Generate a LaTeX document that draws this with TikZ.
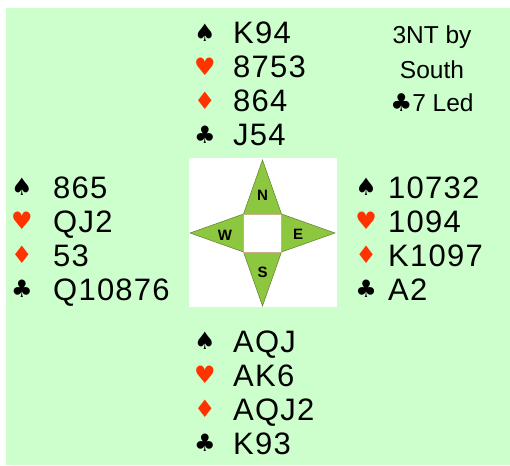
\documentclass[tikz,border=0pt]{standalone}
\usepackage{fontspec}
\setmainfont{Liberation Sans}
\newfontfamily\suitfont{DejaVu Sans}
\newfontfamily\cardfont[LetterSpace=4]{Liberation Sans}

\definecolor{feltgreen}{HTML}{CCFFCC}
\definecolor{suitred}{HTML}{FF3300}
\definecolor{roseleaf}{HTML}{8DC63F}
\definecolor{roseedge}{HTML}{5E7F2A}
\definecolor{roseframe}{HTML}{C8B08A}

\tikzset{
  suit/.style={inner sep=0pt, font=\suitfont\fontsize{24}{24}\selectfont},
  redsuit/.style={suit, text=suitred},
  cards/.style={anchor=base west, inner sep=0pt, font=\cardfont\fontsize{31}{31}\selectfont},
  note/.style={inner sep=0pt, font=\fontsize{24.5}{24.5}\selectfont},
  seat/.style={inner sep=0pt, font=\bfseries\fontsize{15}{15}\selectfont},
}

% one hand: name, suit x, cards x, top row y, four holdings
\newcommand{\bridgehand}[8]{
  \node[suit]    (#1sp)  at (#2,#4)     {♠};
  \node[redsuit] (#1he)  at (#2,#4+34)  {♥};
  \node[redsuit] (#1di)  at (#2,#4+68)  {♦};
  \node[suit]    (#1cl)  at (#2,#4+102) {♣};
  \node[cards]   (#1spc) at (#3,#4+11)  {#5};
  \node[cards]   (#1hec) at (#3,#4+45)  {#6};
  \node[cards]   (#1dic) at (#3,#4+79)  {#7};
  \node[cards]   (#1clc) at (#3,#4+113) {#8};
}

\begin{document}
\begin{tikzpicture}[x=1pt, y=-1pt]
    \useasboundingbox (0,0) rectangle (510,465);
    % Green table
    \fill[feltgreen] (6,8) rectangle (510,465);
    % White square under the compass
    \fill[white] (189,158) rectangle (337,307);
    % Compass star
    \filldraw[fill=roseleaf, draw=roseedge, line width=0.5pt]
      (262.5,160) -- (281.5,214) -- (335,233) -- (281.5,252) --
      (262.5,306) -- (243.5,252) -- (190,233) -- (243.5,214) -- cycle;
    \filldraw[fill=white, draw=roseframe, line width=0.5pt] (243.5,214) rectangle (281.5,252);
    \node[seat] (north) at (262.5,195) {N};
    \node[seat] (east)  at (298,234)   {E};
    \node[seat] (south) at (262.5,272) {S};
    \node[seat] (west)  at (225,235)   {W};

    % The four hands
    \bridgehand{n}{205}{233}{33}{K94}{8753}{864}{J54}
    \bridgehand{w}{22}{53}{187}{865}{QJ2}{53}{Q10876}
    \bridgehand{e}{366}{388}{187}{10732}{1094}{K1097}{A2}
    \bridgehand{s}{205}{233}{341}{AQJ}{AK6}{AQJ2}{K93}

    % Contract and lead
    \node[note] (contract) at (432,37)  {3NT by};
    \node[note] (declarer) at (432,70)  {South};
    \node[note] (lead)     at (432,103) {{\suitfont ♣}7 Led};
\end{tikzpicture}
\end{document}
